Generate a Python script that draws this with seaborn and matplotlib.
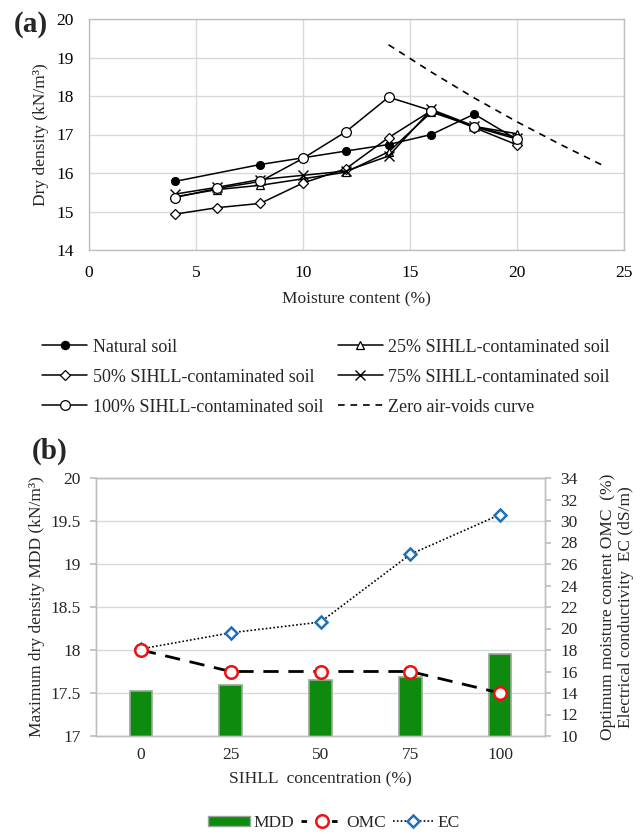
import numpy as np
import pandas as pd
import matplotlib
matplotlib.use("Agg")
import matplotlib.pyplot as plt
import seaborn as sns
from matplotlib.lines import Line2D
from matplotlib.patches import Patch

# ---------------- data: panel (a) ----------------
moisture = [4, 6, 8, 10, 12, 14, 16, 18, 20]
natural_x = [4, 8, 12, 14, 16, 18, 20]
natural = [15.78, 16.22, 16.57, 16.74, 17.00, 17.53, 16.87]
sihll25 = [15.38, 15.57, 15.68, 15.85, 16.02, 16.55, 17.58, 17.21, 17.02]
sihll50 = [14.93, 15.10, 15.21, 15.74, 16.11, 16.92, 17.62, 17.18, 16.73]
sihll75 = [15.45, 15.63, 15.83, 15.94, 16.05, 16.44, 17.65, 17.22, 16.92]
sihll100 = [15.36, 15.60, 15.78, 16.38, 17.07, 17.97, 17.62, 17.20, 16.88]
zav_x = [14, 16, 18, 20, 22, 24]
zav = [19.33, 18.62, 17.95, 17.33, 16.75, 16.20]

# ---------------- data: panel (b) ----------------
conc = ["0", "25", "50", "75", "100"]
mdd = [17.52, 17.59, 17.65, 17.69, 17.95]
omc = [18, 16, 16, 16, 14]
ec = [18.1, 19.6, 20.6, 26.9, 30.6]

sns.set_theme(style="white")
plt.rcParams["font.family"] = ["Liberation Serif", "DejaVu Serif"]

GRID = "#d9d9d9"
SPINE = "#bfbfbf"
TICK_FS = 12.5

fig = plt.figure(figsize=(6.44, 8.34), dpi=100)
W, H = 644, 834
axa = fig.add_axes([89 / W, 1 - 250 / H, (624 - 89) / W, (250 - 19) / H])
axb = fig.add_axes([96 / W, 1 - 736 / H, (545 - 96) / W, (736 - 478) / H])

# ---------------- panel (a) ----------------
lw = 1.1
series = [
    ("Natural soil", natural_x, natural, dict(marker="o", markersize=5.8, markerfacecolor="black", markeredgecolor="black")),
    ("25% SIHLL-contaminated soil", moisture, sihll25, dict(marker="^", markersize=6, markerfacecolor="white", markeredgecolor="black", markeredgewidth=0.9)),
    ("50% SIHLL-contaminated soil", moisture, sihll50, dict(marker="D", markersize=5, markerfacecolor="white", markeredgecolor="black", markeredgewidth=0.9)),
    ("75% SIHLL-contaminated soil", moisture, sihll75, dict(marker="x", markersize=6.5, markeredgecolor="black", markeredgewidth=1.0)),
    ("100% SIHLL-contaminated soil", moisture, sihll100, dict(marker="o", markersize=7, markerfacecolor="white", markeredgecolor="black", markeredgewidth=0.9)),
]
handles = {}
for name, xs, ys, mk in series:
    sns.lineplot(x=xs, y=ys, ax=axa, color="black", linewidth=lw, sort=False, legend=False, zorder=3, **mk)
    handles[name] = Line2D([], [], color="black", linewidth=lw, **mk)
sns.lineplot(x=zav_x, y=zav, ax=axa, color="black", linewidth=1.2, linestyle=(0, (4, 3.5)), legend=False, zorder=3)
handles["Zero air-voids curve"] = Line2D([], [], color="black", linewidth=1.2, linestyle=(0, (4, 3.5)))

axa.set_xlim(0, 25)
axa.set_ylim(14, 20)
axa.set_xticks([0, 5, 10, 15, 20, 25])
axa.set_yticks([14, 15, 16, 17, 18, 19, 20])
axa.grid(True, color=GRID, linewidth=1.0)
axa.set_axisbelow(True)
for s in axa.spines.values():
    s.set_color(SPINE)
    s.set_linewidth(1.0)
axa.tick_params(axis="both", which="major", labelsize=TICK_FS, colors="black", length=4, width=1.0, color=SPINE, direction="out")
axa.tick_params(axis="y", pad=7)
axa.tick_params(axis="x", pad=11, length=0)
axa.set_xlabel("Moisture content (%)", fontsize=12.5, labelpad=7)
axa.set_ylabel("Dry density (kN/m³)", fontsize=12.5, labelpad=5)

order = ["Natural soil", "50% SIHLL-contaminated soil", "100% SIHLL-contaminated soil",
         "25% SIHLL-contaminated soil", "75% SIHLL-contaminated soil", "Zero air-voids curve"]
fig.legend([handles[k] for k in order], order, loc="center", bbox_to_anchor=(326 / W, 1 - 377 / H),
           ncol=2, frameon=False, fontsize=13, handlelength=2.5, handletextpad=0.3,
           columnspacing=0.8, labelspacing=0.72, borderaxespad=0)

fig.text(14 / W, 1 - 24 / H, "(a)", fontsize=21, fontweight="bold", ha="left", va="center")

# ---------------- panel (b) ----------------
dfb = pd.DataFrame({"conc": conc, "MDD": mdd, "OMC": omc, "EC": ec})
sns.barplot(data=dfb, x="conc", y="MDD", ax=axb, color="#0e8a0e", saturation=1, width=0.25,
            edgecolor="#9aa79a", linewidth=1.2, zorder=2)
axb.set_ylim(17, 20)
axb.set_xlim(-0.5, 4.5)
axb.set_yticks([17, 17.5, 18, 18.5, 19, 19.5, 20])
axb.set_yticklabels(["17", "17.5", "18", "18.5", "19", "19.5", "20"])
axb.yaxis.grid(True, color=GRID, linewidth=1.0)
axb.xaxis.grid(False)
axb.set_axisbelow(True)
for s in axb.spines.values():
    s.set_color(SPINE)
    s.set_linewidth(1.0)
axb.tick_params(axis="y", labelsize=TICK_FS, length=4, color=SPINE, pad=7)
axb.tick_params(axis="x", labelsize=TICK_FS, length=0, pad=8)
axb.set_xlabel("SIHLL  concentration (%)", fontsize=12.5, labelpad=6)
axb.set_ylabel("Maximum dry density MDD (kN/m³)", fontsize=12.5, labelpad=4)

ax2 = axb.twinx()
pos = list(range(len(conc)))
sns.lineplot(x=pos, y=ec, ax=ax2, color="black", linewidth=1.2, linestyle=(0, (1, 1.3)), legend=False, zorder=3)
sns.lineplot(x=pos, y=ec, ax=ax2, linewidth=0, marker="D", markersize=6.5, markerfacecolor="white",
             markeredgecolor="#1f6fb8", markeredgewidth=1.8, legend=False, zorder=4)
sns.lineplot(x=pos, y=omc, ax=ax2, color="black", linewidth=2.0, linestyle=(0, (5.5, 3.5)), legend=False, zorder=3)
sns.lineplot(x=pos, y=omc, ax=ax2, linewidth=0, marker="o", markersize=9, markerfacecolor="white",
             markeredgecolor="#ee1111", markeredgewidth=1.8, legend=False, zorder=5)
ax2.set_ylim(10, 34)
ax2.set_yticks(list(range(10, 35, 2)))
ax2.set_xlim(-0.5, 4.5)
for s in ax2.spines.values():
    s.set_color(SPINE)
    s.set_linewidth(1.0)
ax2.tick_params(axis="y", labelsize=TICK_FS, length=4, color=SPINE, pad=7)
ax2.grid(False)
ax2.set_ylabel("Optimum moisture content OMC  (%)\nElectrical conductivity  EC (dS/m)", fontsize=12.5,
               labelpad=16, linespacing=1.15)

leg_b = [
    Patch(facecolor="#0e8a0e", edgecolor="#9aa79a", linewidth=1.0),
    Line2D([], [], color="black", linewidth=2.0, linestyle=(0, (2, 3.5)), marker="o", markersize=9,
           markerfacecolor="white", markeredgecolor="#ee1111", markeredgewidth=1.8),
    Line2D([], [], color="black", linewidth=1.2, linestyle=(0, (1, 1.3)), marker="D", markersize=6,
           markerfacecolor="white", markeredgecolor="#1f6fb8", markeredgewidth=1.8),
]
fig.legend(leg_b, ["MDD", "OMC", "EC"], loc="center", bbox_to_anchor=(334 / W, 1 - 823 / H), ncol=3,
           frameon=False, fontsize=12.5, handlelength=2.4, handleheight=0.5, handletextpad=0.2,
           columnspacing=0.4, borderaxespad=0)

fig.text(32 / W, 1 - 451 / H, "(b)", fontsize=21, fontweight="bold", ha="left", va="center")

fig.savefig("out.png", dpi=100)
